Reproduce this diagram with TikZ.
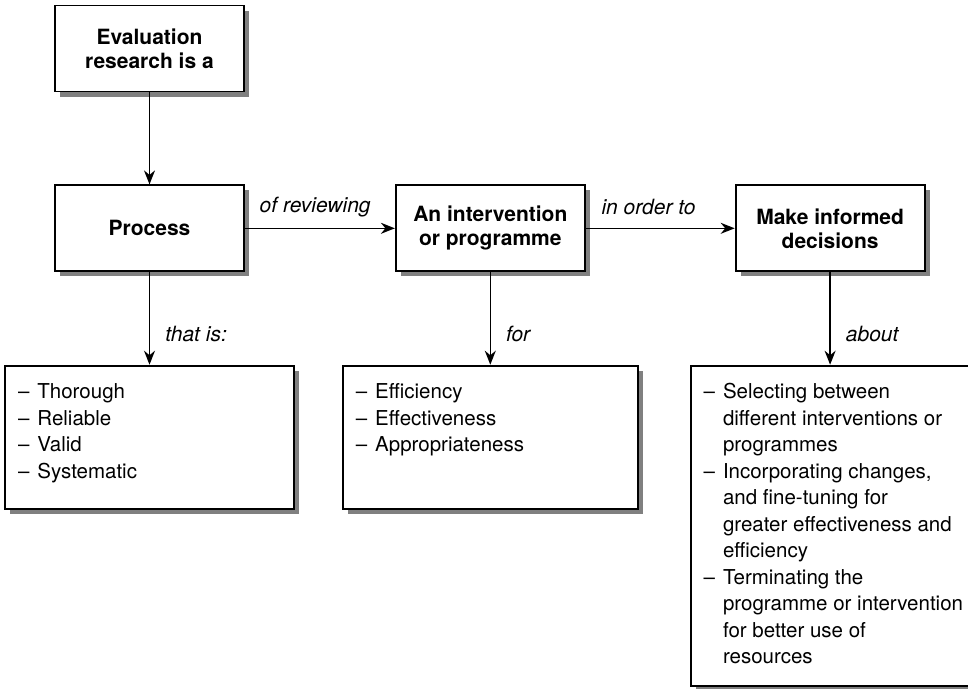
\documentclass[tikz,border=0pt]{standalone}
\usepackage{fontspec}
\setmainfont{TeX Gyre Heros}
\usetikzlibrary{arrows.meta, positioning, shadows}

\begin{document}
\begin{tikzpicture}[
    >={Stealth[length=14pt, width=11pt]},
    box/.style={draw, line width=1.8pt, fill=white,
                drop shadow={shadow xshift=5pt, shadow yshift=-5pt,
                             fill=black!50, opacity=1}},
    titlebox/.style={box, minimum width=189pt, minimum height=86pt,
                     align=center, font=\bfseries\fontsize{21}{24}\selectfont},
    listbox/.style={box, inner xsep=13pt, inner ysep=0pt, text height=33pt,
                    font=\fontsize{20.5}{26.5}\selectfont},
    lbl/.style={inner sep=0pt, font=\itshape\fontsize{21}{24}\selectfont},
    arr/.style={->, line width=1.6pt},
    node distance=150pt
  ]
  \useasboundingbox (0,0) rectangle (968pt,-688pt);

  % top row
  \node[titlebox] (eval) at (149.5pt,-48.5pt) {Evaluation\\research is a};
  \node[titlebox, below=92pt of eval] (process) {Process};
  \node[titlebox, right=of process] (interv) {An intervention\\or programme};
  \node[titlebox, right=149pt of interv] (decide) {Make informed\\decisions};

  % lists
  \node[listbox, text depth=110pt, below=92.5pt of process] (qualities)
    {\makebox[263pt][l]{\begin{tabular}[t]{@{}l@{\hspace{8pt}}l@{}}
      -- & Thorough\\ -- & Reliable\\ -- & Valid\\ -- & Systematic
    \end{tabular}}};
  \node[listbox, text depth=110pt, below=92.5pt of interv] (criteria)
    {\makebox[269pt][l]{\begin{tabular}[t]{@{}l@{\hspace{8pt}}l@{}}
      -- & Efficiency\\ -- & Effectiveness\\ -- & Appropriateness
    \end{tabular}}};
  \node[listbox, text depth=287pt, below=92.5pt of decide] (choices)
    {\makebox[253pt][l]{\begin{tabular}[t]{@{}l@{\hspace{8pt}}l@{}}
      -- & Selecting between\\
         & different interventions or\\
         & programmes\\
      -- & Incorporating changes,\\
         & and fine-tuning for\\
         & greater effectiveness and\\
         & efficiency\\
      -- & Terminating the\\
         & programme or intervention\\
         & for better use of\\
         & resources
    \end{tabular}}};

  % connectors
  \draw[arr] (eval) -- (process);
  \draw[arr] (process) -- node[lbl, pos=0, anchor=west, xshift=14pt,
    yshift=21.5pt] {of reviewing} (interv);
  \draw[arr] (interv) -- node[lbl, pos=0, anchor=west, xshift=15pt,
    yshift=21.5pt] {in order to} (decide);
  \draw[arr] (process) -- node[lbl, pos=0.67, right=15pt] {that is:} (qualities);
  \draw[arr] (interv) -- node[lbl, pos=0.67, right=15pt] {for} (criteria);
  \draw[arr] (decide) -- node[lbl, pos=0.67, right=15pt] {about} (choices);
\end{tikzpicture}
\end{document}
